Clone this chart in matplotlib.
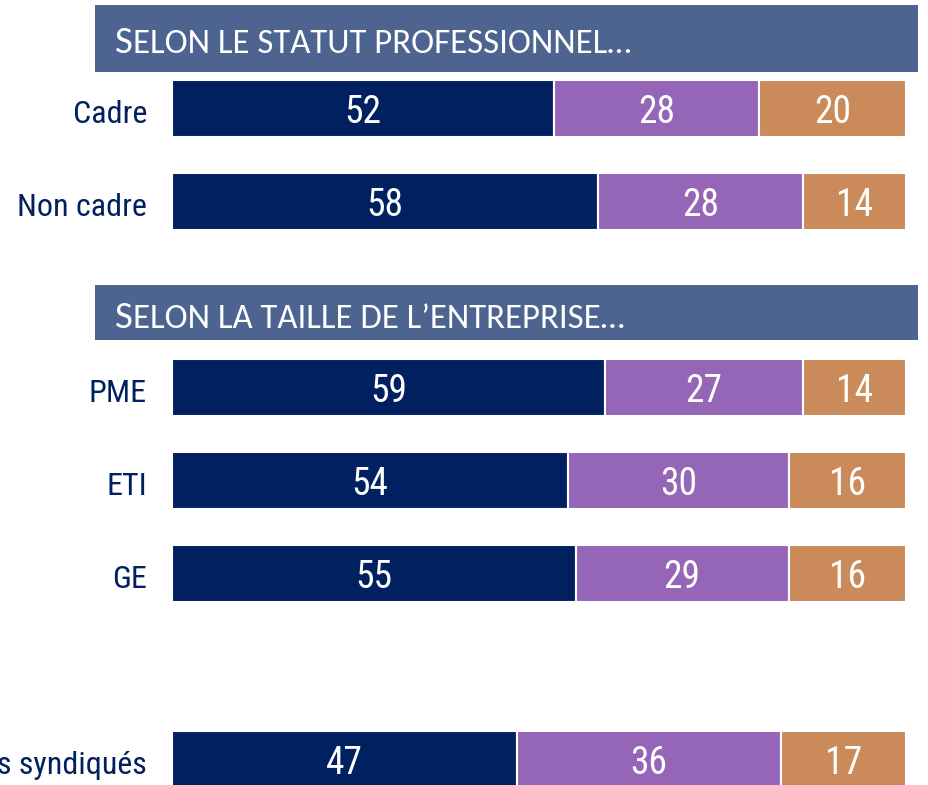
import matplotlib.pyplot as plt
from matplotlib.patches import Rectangle

plt.rcParams['font.family'] = ['Roboto Condensed', 'DejaVu Sans']

# Rows and their vertical slot (gaps are where banners / blank space go)
labels = ["Cadre", "Non cadre", "PME", "ETI", "GE", "Salariés syndiqués"]
slots = [0, 1, 3, 4, 5, 7]
part1 = [52, 58, 59, 54, 55, 47]
part2 = [28, 28, 27, 30, 29, 36]
part3 = [20, 14, 14, 16, 16, 17]

banners = ["SELON LE STATUT PROFESSIONNEL…", "SELON LA TAILLE DE L’ENTREPRISE…"]
banner_spans = [(-1.113, -0.392), (1.898, 2.489)]
banner_base = [0.284, 0.22]

NAVY = "#002060"
PURPLE = "#9566B7"
ORANGE = "#CB8A5A"
BANNER = "#4C648F"
BANNER_FONT = ['Carlito', 'DejaVu Sans']

W, H = 929, 785
fig = plt.figure(figsize=(W / 100, H / 100), dpi=100)
ax = fig.add_axes([172 / W, 0, 734 / W, 1])
ax.set_xlim(0, 100)
ax.set_ylim((H - 108.5) / 93, -108.5 / 93)
ax.axis("off")

bar_h = 57 / 93
base = 0.156  # text baseline below the bar centre
lefts = [0] * len(labels)
for vals, col in [(part1, NAVY), (part2, PURPLE), (part3, ORANGE)]:
    ax.barh(slots, vals, left=lefts, height=bar_h, color=col,
            edgecolor="white", linewidth=1.5)
    for s, l, v in zip(slots, lefts, vals):
        ax.text(l + v / 2, s + base, str(v), ha="center", va="baseline",
                color="white", fontsize=27)
    lefts = [l + v for l, v in zip(lefts, vals)]

for s, lab in zip(slots, labels):
    ax.text(-3.4, s + base, lab, ha="right", va="baseline", color=NAVY,
            fontsize=23, clip_on=False)

x0 = (95 - 172) / 7.34
x1 = (918 - 172) / 7.34
for title, (y0, y1), fb in zip(banners, banner_spans, banner_base):
    ax.add_patch(Rectangle((x0, y0), x1 - x0, y1 - y0, facecolor=BANNER,
                           edgecolor="none", clip_on=False))
    yb = y1 - (y1 - y0) * fb
    t = ax.text(x0 + 2.7, yb, title[0], ha="left", va="baseline",
                color="white", fontsize=28, family=BANNER_FONT, clip_on=False)
    ax.annotate(title[1:], xy=(1, 0), xycoords=t, xytext=(0.5, 0),
                textcoords="offset points", ha="left", va="bottom",
                color="white", fontsize=25, family=BANNER_FONT)

fig.savefig("out.png", dpi=100)
